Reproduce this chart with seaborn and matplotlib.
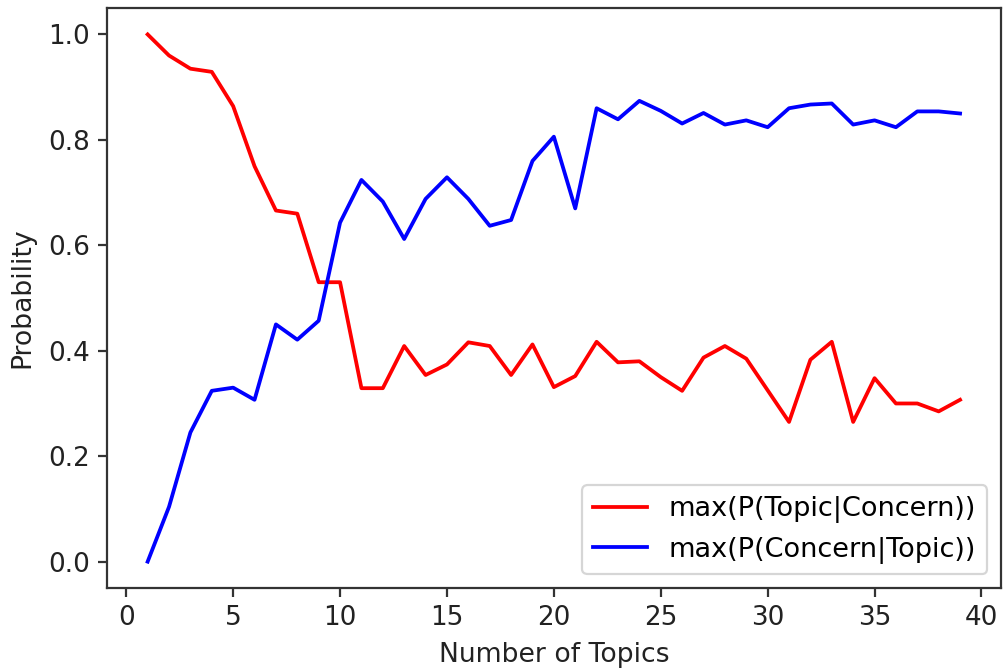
import numpy as np
import pandas as pd
import matplotlib
matplotlib.use("Agg")
import matplotlib.pyplot as plt
import seaborn as sns

topics = list(range(1, 40))
p_topic_given_concern = [
    1.000, 0.960, 0.935, 0.929, 0.864, 0.750, 0.666, 0.660, 0.530, 0.530,
    0.329, 0.329, 0.409, 0.354, 0.374, 0.416, 0.409, 0.354, 0.412, 0.331,
    0.352, 0.417, 0.378, 0.380, 0.350, 0.324, 0.387, 0.409, 0.385, 0.325,
    0.265, 0.383, 0.417, 0.265, 0.348, 0.300, 0.300, 0.285, 0.307,
]
p_concern_given_topic = [
    0.000, 0.104, 0.245, 0.324, 0.330, 0.307, 0.450, 0.421, 0.457, 0.643,
    0.724, 0.683, 0.612, 0.688, 0.729, 0.688, 0.637, 0.648, 0.760, 0.806,
    0.670, 0.860, 0.839, 0.874, 0.855, 0.831, 0.851, 0.829, 0.837, 0.824,
    0.860, 0.867, 0.869, 0.829, 0.837, 0.824, 0.854, 0.854, 0.850,
]
labels = ["max(P(Topic|Concern))", "max(P(Concern|Topic))"]
colors = ["red", "blue"]

df = pd.concat([
    pd.DataFrame({"Number of Topics": topics, "Probability": p_topic_given_concern, "series": labels[0]}),
    pd.DataFrame({"Number of Topics": topics, "Probability": p_concern_given_topic, "series": labels[1]}),
])

DPI = 160
fig = plt.figure(figsize=(1003 / DPI, 672 / DPI), dpi=DPI)
ax = fig.add_axes([0.1067, 0.125, 0.891, 0.863])

sns.lineplot(data=df, x="Number of Topics", y="Probability", hue="series",
             palette=dict(zip(labels, colors)), linewidth=1.7, ax=ax)

for s in ax.spines.values():
    s.set_color("#333333")
    s.set_linewidth(1.0)
ax.tick_params(colors="#333333", labelcolor="#222222", labelsize=11.8,
               length=4, width=1.0)
ax.set_xticks([0, 5, 10, 15, 20, 25, 30, 35, 40])
ax.set_yticks([0.0, 0.2, 0.4, 0.6, 0.8, 1.0])
ax.set_xlim(-0.9, 40.9)
ax.set_ylim(-0.05, 1.05)
ax.set_xlabel("Number of Topics", color="#222222", fontsize=12, labelpad=5.3)
ax.set_ylabel("Probability", color="#222222", fontsize=12, labelpad=5.7)
ax.legend(loc="lower right", title=None, fontsize=12.2)

fig.savefig("out.png", dpi=DPI)
